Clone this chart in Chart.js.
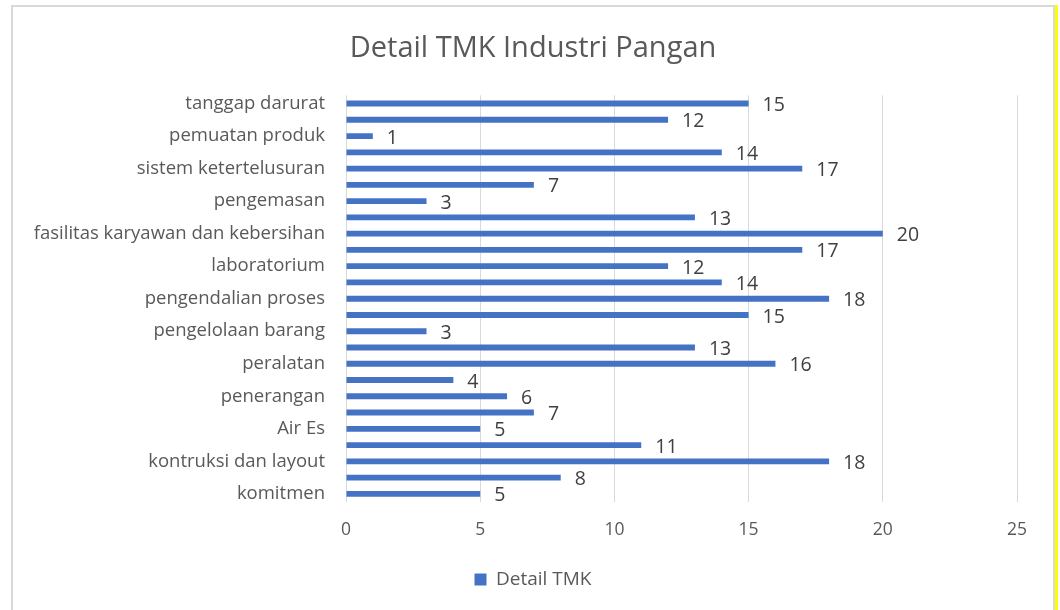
<!DOCTYPE html>
<html>
<head>
<meta charset="utf-8">
<script src="https://cdn.jsdelivr.net/npm/chart.js@4/dist/chart.umd.min.js"></script>
<style>
  html, body { margin: 0; padding: 0; background: #ffffff; width: 1060px; height: 610px; overflow: hidden; }
  #frame { position: absolute; left: 11px; top: 5px; width: 1044px; height: 620px; box-sizing: border-box;
           border-top: 2px solid #d9d9d9; border-left: 2px solid #d9d9d9; border-right: 2px solid #d9d9d9; }
  #yellow { position: absolute; left: 1055px; top: 5px; width: 3px; height: 610px; background: #ffff00; }
  #wrap { position: absolute; left: 13px; top: 7px; width: 1040px; height: 603px; }
</style>
</head>
<body>
<div id="frame"></div>
<div id="yellow"></div>
<div id="wrap"><canvas id="c"></canvas></div>
<script>
// Categories listed bottom-to-top (as in the source chart); unlabeled categories are hidden in the original
const categories = [
  "komitmen", "", "kontruksi dan layout", "", "Air Es", "", "penerangan", "",
  "peralatan", "", "pengelolaan barang", "", "pengendalian proses", "",
  "laboratorium", "", "fasilitas karyawan dan kebersihan", "", "pengemasan", "",
  "sistem ketertelusuran", "", "pemuatan produk", "", "tanggap darurat"
];
const detailTMK = [5, 8, 18, 11, 5, 7, 6, 4, 16, 13, 3, 15, 18, 14, 12, 17, 20, 13, 3, 7, 17, 14, 1, 12, 15];
const xTicks = [0, 5, 10, 15, 20, 25];
const seriesName = "Detail TMK";
const chartTitle = "Detail TMK Industri Pangan";

const FONT = "'Open Sans', Lato, sans-serif";

const valueLabels = {
  id: 'valueLabels',
  afterDatasetsDraw(chart) {
    const ctx = chart.ctx;
    const meta = chart.getDatasetMeta(0);
    ctx.save();
    ctx.font = "19.5px " + FONT;
    ctx.fillStyle = "#404040";
    ctx.textAlign = "left";
    ctx.textBaseline = "middle";
    meta.data.forEach((bar, i) => {
      ctx.fillText(String(chart.data.datasets[0].data[i]), bar.x + 14, bar.y + 2);
    });
    ctx.restore();
  }
};

new Chart(document.getElementById('c'), {
  type: 'bar',
  data: {
    labels: categories,
    datasets: [{
      label: seriesName,
      data: detailTMK,
      backgroundColor: "#4472C4",
      borderWidth: 0,
      categoryPercentage: 1.0,
      barPercentage: 0.36
    }]
  },
  options: {
    indexAxis: 'y',
    responsive: true,
    maintainAspectRatio: false,
    animation: false,
    layout: { padding: { left: 36, right: 36, top: 0, bottom: 11 } },
    plugins: {
      title: {
        display: true,
        text: chartTitle,
        color: "#595959",
        font: { family: FONT, size: 29, weight: 'normal' },
        padding: { top: 24, bottom: 29.6 }
      },
      legend: {
        display: true,
        position: 'bottom',
        labels: {
          color: "#595959",
          font: { family: FONT, size: 19 },
          boxWidth: 12,
          boxHeight: 12,
          padding: 10
        }
      },
      tooltip: { enabled: false }
    },
    scales: {
      x: {
        min: 0,
        max: 25,
        afterBuildTicks(scale) { scale.ticks = xTicks.map(v => ({ value: v })); },
        afterFit(scale) { scale.height = 58; },
        grid: { color: "#d9d9d9", lineWidth: 1, drawTicks: false },
        border: { display: false },
        ticks: { color: "#595959", font: { family: FONT, size: 17.5 }, padding: 18 }
      },
      y: {
        reverse: true,
        afterFit(scale) {
          scale.width = 297;
          // let long category labels extend past the scale box (no clipping)
          scale._computeLabelArea = function () { return undefined; };
        },
        grid: { display: false, drawTicks: false },
        border: { display: false },
        ticks: { color: "#595959", font: { family: FONT, size: 18.5 }, padding: 21, autoSkip: false }
      }
    }
  },
  plugins: [valueLabels]
});
</script>
</body>
</html>
